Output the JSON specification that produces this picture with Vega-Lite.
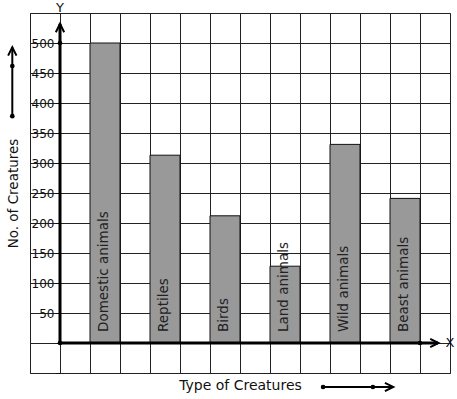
{
  "$schema": "https://vega.github.io/schema/vega-lite/v6.json",
  "width": 420,
  "height": 360,
  "autosize": {"type": "none"},
  "padding": {"left": 30, "top": 13, "right": 7, "bottom": 26},
  "background": "white",
  "config": {
    "view": {"stroke": "#222", "strokeWidth": 1},
    "font": "DejaVu Sans",
    "axis": {"gridColor": "#222", "gridOpacity": 1, "gridWidth": 1}
  },
  "datasets": {
    "creatures": [
      {"creature": "Domestic animals", "count": 500},
      {"creature": "Reptiles", "count": 313},
      {"creature": "Birds", "count": 212},
      {"creature": "Land animals", "count": 128},
      {"creature": "Wild animals", "count": 331},
      {"creature": "Beast animals", "count": 241}
    ],
    "lines": [
      {"x": 1, "count": 0, "x2": 1, "count2": 532, "w": "axis"},
      {"x": 1, "count": 0, "x2": 13.6, "count2": 0, "w": "axis"},
      {"x": -0.59, "count": 378, "x2": -0.59, "count2": 493, "w": "deco"},
      {"x": 9.77, "count": -73.3, "x2": 12.07, "count2": -73.3, "w": "deco"}
    ],
    "dots": [
      {"x": 1, "count": 0},
      {"x": 1, "count": 500},
      {"x": 13, "count": 0},
      {"x": -0.59, "count": 378},
      {"x": -0.59, "count": 461.7},
      {"x": 9.77, "count": -73.3},
      {"x": 11.43, "count": -73.3}
    ],
    "up": [
      {"x": 1, "count": 525},
      {"x": -0.59, "count": 486}
    ],
    "right": [
      {"x": 13.48, "count": 0},
      {"x": 11.97, "count": -73.3}
    ],
    "letters": [
      {"x": 14, "count": 0, "t": "X"},
      {"x": 1, "count": 558, "t": "Y"}
    ]
  },
  "encoding": {
    "y": {
      "field": "count", "type": "quantitative",
      "scale": {"domain": [-50, 550], "nice": false, "zero": false},
      "axis": {"values": [-50, 0, 50, 100, 150, 200, 250, 300, 350, 400, 450, 500, 550], "offset": -30, "labelExpr": "datum.value >= 50 && datum.value <= 500 ? datum.label : ''", "labelOverlap": false, "grid": true, "domain": false, "tickSize": 5, "tickColor": "#111", "labelFontSize": 12, "labelColor": "#111", "labelPadding": 1, "title": "No. of Creatures", "titleFontSize": 13.5, "titleFontWeight": "normal", "titleColor": "#111", "titlePadding": 11}
    }
  },
  "layer": [
    {
      "layer": [
        {
          "data": {"name": "creatures"},
          "mark": {"type": "bar", "fill": "#999999", "stroke": "#111", "strokeWidth": 1},
          "encoding": {
            "x": {
              "field": "creature", "type": "nominal", "sort": null,
              "scale": {"type": "band", "domain": ["c0", "c1", "Domestic animals", "c3", "Reptiles", "c5", "Birds", "c7", "Land animals", "c9", "Wild animals", "c11", "Beast animals", "c13"], "paddingInner": 0, "paddingOuter": 0},
              "axis": {"grid": true, "bandPosition": 0, "labels": false, "ticks": false, "domain": false, "title": "Type of Creatures", "titleFontSize": 14, "titleFontWeight": "normal", "titleColor": "#111", "titlePadding": 5}
            }
          }
        },
        {
          "data": {"name": "creatures"},
          "mark": {"type": "text", "angle": 270, "align": "left", "baseline": "middle", "dx": 11, "dy": -1, "fontSize": 13.5, "color": "#222"},
          "encoding": {
            "x": {"field": "creature", "type": "nominal", "sort": null},
            "y": {"datum": 0, "type": "quantitative"},
            "text": {"field": "creature"}
          }
        }
      ]
    },
    {
      "layer": [
        {
          "data": {"name": "lines"},
          "mark": {"type": "rule", "color": "#000"},
          "encoding": {
            "x": {"field": "x", "type": "quantitative", "scale": {"domain": [0, 14], "nice": false, "zero": false}, "axis": null},
            "x2": {"field": "x2"},
            "y2": {"field": "count2"},
            "strokeWidth": {"field": "w", "type": "nominal", "scale": {"domain": ["axis", "deco"], "range": [3, 2]}, "legend": null}
          }
        },
        {
          "data": {"name": "dots"},
          "mark": {"type": "point", "shape": "circle", "filled": true, "color": "#000", "size": 22, "opacity": 1},
          "encoding": {
            "x": {"field": "x", "type": "quantitative", "scale": {"domain": [0, 14], "nice": false, "zero": false}, "axis": null}
          }
        },
        {
          "data": {"name": "up"},
          "mark": {"type": "point", "shape": "M-1,1L0,-1L1,1", "filled": false, "stroke": "#000", "strokeWidth": 2, "size": 70, "opacity": 1},
          "encoding": {
            "x": {"field": "x", "type": "quantitative", "scale": {"domain": [0, 14], "nice": false, "zero": false}, "axis": null}
          }
        },
        {
          "data": {"name": "right"},
          "mark": {"type": "point", "shape": "M-1,-1L1,0L-1,1", "filled": false, "stroke": "#000", "strokeWidth": 2, "size": 70, "opacity": 1},
          "encoding": {
            "x": {"field": "x", "type": "quantitative", "scale": {"domain": [0, 14], "nice": false, "zero": false}, "axis": null}
          }
        },
        {
          "data": {"name": "letters"},
          "mark": {"type": "text", "align": "center", "baseline": "middle", "fontSize": 13, "color": "#111"},
          "encoding": {
            "x": {"field": "x", "type": "quantitative", "scale": {"domain": [0, 14], "nice": false, "zero": false}, "axis": null},
            "text": {"field": "t"}
          }
        }
      ]
    }
  ],
  "resolve": {"scale": {"x": "independent"}}
}
